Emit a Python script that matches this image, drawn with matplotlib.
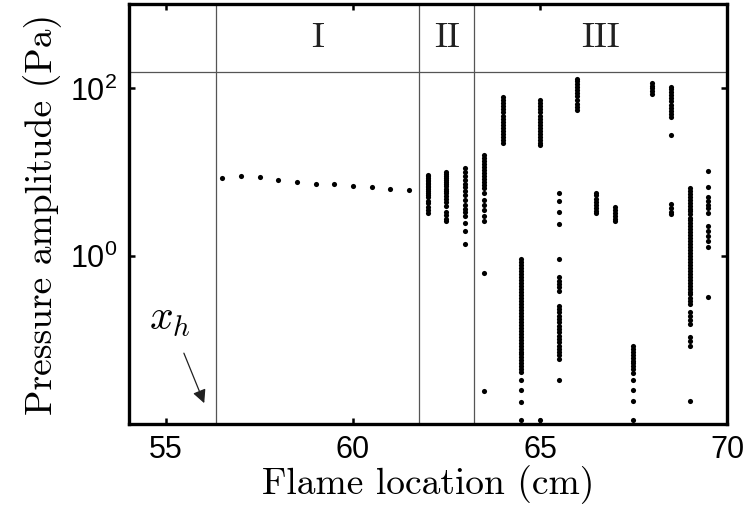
import matplotlib
matplotlib.use("Agg")
import matplotlib.pyplot as plt

plt.rcParams["mathtext.fontset"] = "custom"
plt.rcParams["mathtext.rm"] = "Liberation Sans"
plt.rcParams["font.family"] = "Liberation Sans"

# regime I: one amplitude per flame location
x_regime1 = [56.5, 57.0, 57.5, 58.0, 58.5, 59.0, 59.5, 60.0, 60.5, 61.0, 61.5]
p_regime1 = [8.6, 9.0, 8.8, 8.2, 7.7, 7.3, 7.2, 6.8, 6.7, 6.4, 6.2]

# regime II: a spread of amplitudes at each location
p_62_0 = [9.4, 9.0, 8.6, 8.2, 7.8, 7.5, 7.2, 6.9, 6.6, 6.3, 6.0, 5.7, 5.4,
          5.1, 4.6, 4.3, 3.9, 3.6, 3.3]
p_62_5 = [10.0, 9.5, 9.0, 8.5, 8.0, 7.6, 7.2, 6.8, 6.4, 6.0, 5.6, 5.2, 4.8,
          4.4, 4.0, 3.4, 3.1, 2.8, 2.6]
p_63_0 = [11.3, 10.1, 9.1, 8.2, 7.3, 6.7, 6.0, 5.3, 4.7, 4.1, 3.7, 3.4, 3.0,
          2.5, 2.0, 1.4]

# regime III
p_63_5 = [16.1, 14.9, 13.7, 12.6, 11.6, 10.7, 9.9, 9.1, 8.4, 7.7, 7.1, 6.55,
          5.7, 4.7, 4.1, 3.6, 3.0, 2.6, 0.63, 0.025]
p_64_0 = [78.4, 72.1, 66.3, 61.0, 56.1, 51.6, 47.5, 43.7, 40.2, 37.0, 34.0,
          31.3, 28.8, 26.5, 24.4, 22.4]
p_64_5 = [0.921, 0.849, 0.782, 0.721, 0.665, 0.612, 0.564, 0.520, 0.479,
          0.442, 0.407, 0.375, 0.346, 0.318, 0.293, 0.270, 0.249, 0.230,
          0.212, 0.195, 0.180, 0.166, 0.153, 0.141, 0.130, 0.119, 0.110,
          0.101, 0.0934, 0.0861, 0.0793, 0.0731, 0.0674, 0.0621, 0.0572,
          0.0527, 0.0486, 0.0448, 0.042, 0.033, 0.0255, 0.0185, 0.0112]
p_65_0 = [72.1, 66.3, 61.0, 56.1, 51.6, 47.5, 43.7, 40.2, 37.0, 34.0, 31.3,
          28.8, 26.5, 24.4, 22.4, 21.2, 0.0112]
p_65_5 = [5.7, 4.5, 3.4, 2.4, 0.92, 0.56, 0.51, 0.47, 0.43, 0.385, 0.256,
          0.236, 0.217, 0.195, 0.180, 0.166, 0.149, 0.137, 0.126, 0.113,
          0.104, 0.096, 0.086, 0.079, 0.073, 0.066, 0.060, 0.033]
p_66_0 = [131, 121, 112, 103, 94.8, 87.0, 80.1, 73.7, 64.6, 59.5, 54.8]
p_66_5 = [5.7, 5.3, 4.85, 4.47, 4.12, 3.8, 3.5, 3.3]
p_67_0 = [3.9, 3.6, 3.3, 3.05, 2.8, 2.6]
p_67_5 = [0.086, 0.079, 0.073, 0.067, 0.062, 0.057, 0.053, 0.049, 0.045,
          0.041, 0.033, 0.0255, 0.0187, 0.0112]
p_68_0 = [117, 108, 99.8, 91.9, 84.6]
p_68_5 = [105, 97.2, 89.5, 82.4, 75.8, 69.8, 64.2, 59.1, 54.4, 50.1, 46.1,
          27.8, 4.24, 3.8, 3.4, 3.14]
p_69_0 = [6.56, 6.04, 5.56, 5.13, 4.72, 4.35, 4.01, 3.70, 3.41, 3.14, 2.89,
          2.67, 2.46, 2.26, 2.09, 1.92, 1.77, 1.63, 1.50, 1.39, 1.28, 1.18,
          1.09, 1.0, 0.92, 0.85, 0.78, 0.72, 0.66, 0.61, 0.56, 0.52, 0.48,
          0.44, 0.41, 0.37, 0.35, 0.32, 0.29, 0.27, 0.217, 0.195, 0.175,
          0.157, 0.110, 0.098, 0.086, 0.0187]
p_69_5 = [10.5, 6.6, 5.1, 4.5, 4.1, 3.8, 3.3, 2.26, 1.98, 1.72, 1.50, 1.28,
          0.33]

columns = [(62.0, p_62_0), (62.5, p_62_5), (63.0, p_63_0), (63.5, p_63_5),
           (64.0, p_64_0), (64.5, p_64_5), (65.0, p_65_0), (65.5, p_65_5),
           (66.0, p_66_0), (66.5, p_66_5), (67.0, p_67_0), (67.5, p_67_5),
           (68.0, p_68_0), (68.5, p_68_5), (69.0, p_69_0), (69.5, p_69_5)]

# regime boundaries and labels
x_bounds = [56.35, 61.77, 63.24]
regime_names = ["I", "II", "III"]
y_band = 158

fig = plt.figure(figsize=(7.46, 5.15), dpi=100)
ax = fig.add_axes([0.1724, 0.1767, 0.8021, 0.8146])

ax.plot(x_regime1, p_regime1, "o", color="black", ms=3.7, mew=0)
for x, p in columns:
    ax.plot([x] * len(p), p, "o", color="black", ms=3.7, mew=0)

for xb in x_bounds:
    ax.axvline(xb, color="#555555", lw=0.9)
ax.axhline(y_band, color="#555555", lw=0.9)

edges = x_bounds[1:] + [70]
for name, x0, x1 in zip(regime_names, x_bounds, edges):
    ax.text((x0 + x1) / 2, (y_band * 1000) ** 0.5, name, family="cmr10",
            fontsize=26, ha="center", va="center", color="#222222")

ax.annotate("", xy=(56.05, 0.0165), xytext=(55.45, 0.075),
            arrowprops=dict(arrowstyle="-|>", color="#202020", lw=0.9,
                            mutation_scale=20))
ax.text(55.1, 0.18, "$x_h$", math_fontfamily="cm", fontsize=30,
        ha="center", va="center")

ax.set_yscale("log")
ax.set_xlim(54, 70)
ax.set_ylim(1e-2, 1e3)
ax.set_xticks([55, 60, 65, 70])
ax.set_yticks([1, 100])
ax.set_yticklabels(["$10^0$", "$10^2$"])
ax.minorticks_off()
ax.tick_params(direction="in", length=4, width=1.8, labelsize=22,
               top=True, right=True, pad=8)
for s in ax.spines.values():
    s.set_linewidth(2.4)

ax.set_xlabel("Flame location (cm)", family="cmr10", fontsize=27, labelpad=0)
ax.set_ylabel("Pressure amplitude (Pa)", family="cmr10", fontsize=27,
              labelpad=6)

fig.savefig("out.png", dpi=100)
